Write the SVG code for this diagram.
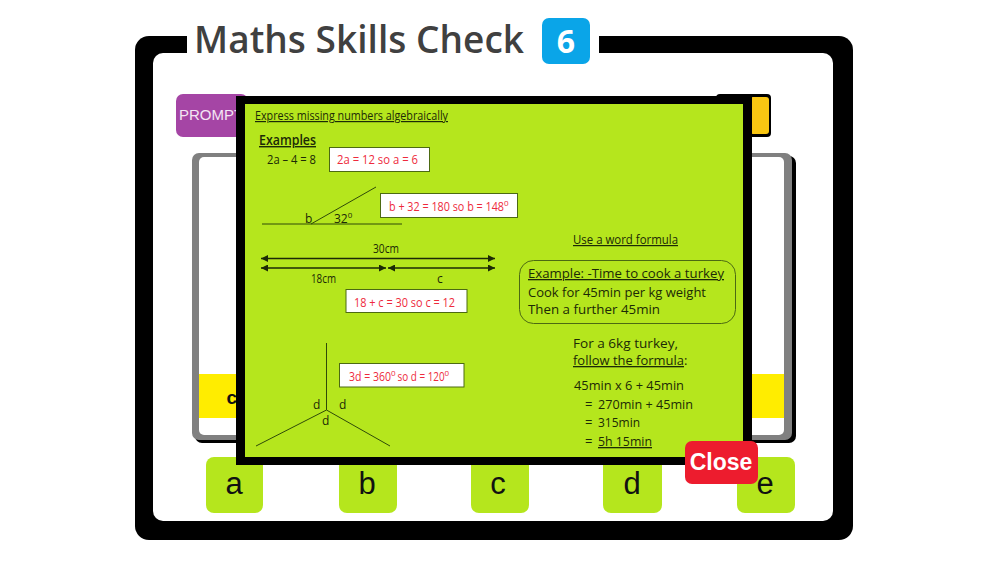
<svg xmlns="http://www.w3.org/2000/svg" width="1000" height="563" viewBox="0 0 1000 563">
<style>
.h{font-family:"Open Sans","Noto Sans",sans-serif;fill:#1c2a06;font-size:12px}
.l{font-size:13px}
.r{font-family:"Open Sans","Noto Sans",sans-serif;fill:#ee2a3c;font-size:12px}
.u{text-decoration:underline}
.sup{font-size:8px}
.box{fill:#fff;stroke:#4c6a12;stroke-width:1}
.ln{stroke:#2f4a08;stroke-width:1;fill:none}
.ar{stroke:#1c2a06;stroke-width:1.5;fill:none;marker-start:url(#ah);marker-end:url(#ah)}
.opt{fill:#b5e61d}
.optt{font-family:"Liberation Sans",Arial,sans-serif;font-size:31px;fill:#111;text-anchor:middle}
</style>
<defs>
<marker id="ah" viewBox="0 0 10 10" refX="10" refY="5" markerWidth="7" markerHeight="7" orient="auto-start-reverse" markerUnits="userSpaceOnUse"><path d="M0 0L10 5L0 10z" fill="#1c2a06"/></marker>
</defs>
<rect width="1000" height="563" fill="#fff"/>
<g id="frame">
<rect x="135" y="36" width="718" height="504" rx="14" fill="#000"/>
<rect x="153" y="53" width="680" height="468" rx="10" fill="#fff"/>
<rect x="187" y="30" width="412" height="26" fill="#fff"/>
</g>
<g id="title">
<text x="194" y="52.500" font-family="Open Sans,Noto Sans,sans-serif" font-size="37" font-weight="600" fill="#404040" textLength="330" lengthAdjust="spacing">Maths Skills Check</text>
</g>
<g id="badge">
<rect x="542" y="18" width="48" height="46" rx="7" fill="#0aa5e8"/>
<text x="566" y="53" text-anchor="middle" font-family="Open Sans,Noto Sans,sans-serif" font-size="32" font-weight="700" fill="#fff">6</text>
</g>
<g id="prompt">
<rect x="176" y="94" width="72" height="43" rx="7" fill="#a545a5"/>
<text x="179" y="120" font-family="Liberation Sans,Arial,sans-serif" font-size="15" fill="#f4e6f4">PROMPT</text>
</g>
<g id="orange-button">
<rect x="716" y="94" width="55" height="43" rx="4" fill="#000"/>
<rect x="750" y="97" width="19" height="37" rx="3" fill="#f9c612"/>
</g>
<g id="question-panel">
<rect x="195" y="156" width="601" height="287" rx="7" fill="#000"/>
<rect x="192" y="153" width="600" height="287" rx="7" fill="#808080"/>
<rect x="199" y="157" width="585" height="278" rx="5" fill="#fff"/>
<rect x="199" y="374" width="585" height="44" fill="#ffed00"/>
<text x="226.500" y="404" font-family="Liberation Sans,Arial,sans-serif" font-size="19" font-weight="700" fill="#111">c</text>
</g>
<g id="option-a"><rect class="opt" x="206" y="457" width="57" height="56" rx="8"/><text class="optt" x="234" y="494">a</text></g>
<g id="option-b"><rect class="opt" x="339" y="457" width="58" height="56" rx="8"/><text class="optt" x="367" y="494">b</text></g>
<g id="option-c"><rect class="opt" x="471" y="457" width="58" height="56" rx="8"/><text class="optt" x="498" y="494">c</text></g>
<g id="option-d"><rect class="opt" x="603" y="457" width="59" height="56" rx="8"/><text class="optt" x="632" y="494">d</text></g>
<g id="option-e"><rect class="opt" x="737" y="457" width="58" height="56" rx="8"/><text class="optt" x="765" y="494">e</text></g>
<g id="modal">
<rect x="236" y="96" width="516" height="369" fill="#000"/>
<rect x="245" y="104" width="498" height="353" fill="#b5e61d"/>
</g>
<g id="heading">
<text class="h u" x="255" y="120" textLength="193" lengthAdjust="spacingAndGlyphs">Express missing numbers algebraically</text>
<text class="h u" x="259" y="145" style="font-size:14px;font-weight:600" textLength="57" lengthAdjust="spacingAndGlyphs">Examples</text>
</g>
<g id="example-1">
<text class="h" x="267" y="164" textLength="49" lengthAdjust="spacingAndGlyphs">2a – 4 = 8</text>
<rect class="box" x="329.500" y="147.500" width="100" height="24"/>
<text class="r" x="337" y="164" textLength="81" lengthAdjust="spacingAndGlyphs">2a = 12  so a = 6</text>
</g>
<g id="example-2">
<path class="ln" d="M262 224H402M311 224L376 187"/>
<text class="h" x="305" y="222.500">b</text>
<text class="h" x="334" y="222.500">32<tspan class="sup" dy="-5">0</tspan></text>
<rect class="box" x="380.500" y="193.500" width="137" height="24"/>
<text class="r" x="389" y="210.500"><tspan textLength="115" lengthAdjust="spacingAndGlyphs">b + 32 = 180 so b = 148</tspan><tspan class="sup" dy="-5">0</tspan></text>
</g>
<g id="example-3">
<path class="ar" d="M261 258.500H495"/>
<path class="ar" d="M261 268H386"/>
<path class="ar" d="M388 268H495"/>
<text class="h" x="373" y="253" textLength="26" lengthAdjust="spacingAndGlyphs">30cm</text>
<text class="h" x="311" y="283" textLength="25" lengthAdjust="spacingAndGlyphs">18cm</text>
<text class="h" x="437" y="283">c</text>
<rect class="box" x="346" y="289.500" width="121" height="23"/>
<text class="r" x="354" y="307" textLength="101" lengthAdjust="spacingAndGlyphs">18 + c = 30 so c = 12</text>
</g>
<g id="example-4">
<path class="ln" d="M326.500 343V410L256 446M326.500 410L390 446"/>
<text class="h" x="313" y="409">d</text>
<text class="h" x="339" y="409">d</text>
<text class="h" x="322" y="425">d</text>
<rect class="box" x="339.500" y="363.500" width="124.500" height="23.500"/>
<text class="r" x="349" y="381"><tspan textLength="42" lengthAdjust="spacingAndGlyphs">3d = 360</tspan><tspan class="sup" dy="-5">0</tspan><tspan dy="5" dx="2" textLength="47" lengthAdjust="spacingAndGlyphs">so d = 120</tspan><tspan class="sup" dy="-5">0</tspan></text>
</g>
<g id="word-formula">
<text class="h u" x="573" y="244" textLength="105" lengthAdjust="spacingAndGlyphs">Use a word formula</text>
<rect x="519.500" y="260.500" width="216" height="63" rx="14" fill="none" stroke="#4c6a12"/>
<text class="h l u" x="528" y="278" textLength="196" lengthAdjust="spacingAndGlyphs">Example: -Time to cook a turkey</text>
<text class="h l" x="528" y="297" textLength="178" lengthAdjust="spacingAndGlyphs">Cook for 45min per kg weight</text>
<text class="h l" x="528" y="314" textLength="132" lengthAdjust="spacingAndGlyphs">Then a further 45min</text>
<text class="h l" x="573" y="348" textLength="105" lengthAdjust="spacingAndGlyphs">For a 6kg turkey,</text>
<text class="h l" x="573" y="365"><tspan class="u" textLength="111" lengthAdjust="spacingAndGlyphs">follow the formula</tspan>:</text>
<text class="h l" x="574" y="390" textLength="110" lengthAdjust="spacingAndGlyphs">45min x 6 + 45min</text>
<text class="h l" x="585" y="409">=</text>
<text class="h l" x="598" y="409" textLength="95" lengthAdjust="spacingAndGlyphs">270min + 45min</text>
<text class="h l" x="585" y="427">=</text>
<text class="h l" x="598" y="427" textLength="42" lengthAdjust="spacingAndGlyphs">315min</text>
<text class="h l" x="585" y="446">=</text>
<text class="h l u" x="598" y="446" textLength="54" lengthAdjust="spacingAndGlyphs">5h 15min</text>
</g>
<g id="close">
<rect x="685" y="441" width="73" height="43" rx="7" fill="#ed1c2e"/>
<text x="721" y="470" text-anchor="middle" font-family="Liberation Sans,Arial,sans-serif" font-size="23" font-weight="700" fill="#fff">Close</text>
</g>
</svg>
